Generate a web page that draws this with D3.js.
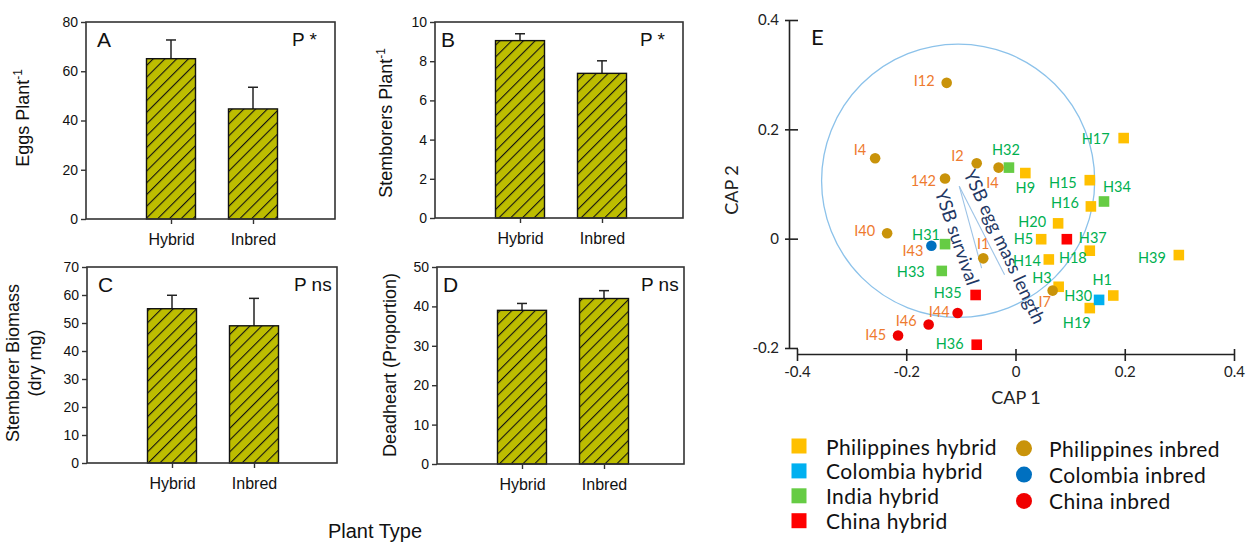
<!DOCTYPE html>
<html>
<head>
<meta charset="utf-8">
<script src="https://cdn.jsdelivr.net/npm/d3@7"></script>
<style>
  body { margin: 0; background: #fff; }
  svg { display: block; }
</style>
</head>
<body>
<div id="chart"></div>
<script>
// ---- bar panel data ----
var categories = ['Hybrid', 'Inbred'];
var eggsMean = [65.1, 44.7];
var eggsSE = [7.6, 8.8];
var stemborersMean = [9.05, 7.38];
var stemborersSE = [0.35, 0.64];
var biomassMean = [55.1, 49.0];
var biomassSE = [4.8, 9.8];
var deadheartMean = [39.0, 42.0];
var deadheartSE = [1.75, 2.0];

// ---- CAP ordination data ----
var capNames = ['H17', 'H9', 'H15', 'H16', 'H20', 'H5', 'H18', 'H39', 'H14', 'H3', 'H1', 'H19',
    'H30',
    'H32', 'H34', 'H31', 'H33',
    'H37', 'H35', 'H36',
    'I12', 'I4', 'I2', 'I4', '142', 'I40', 'I1', 'I7',
    'I43',
    'I44', 'I46', 'I45'];
var capGroups = ['Philippines hybrid', 'Philippines hybrid', 'Philippines hybrid', 'Philippines hybrid',
    'Philippines hybrid', 'Philippines hybrid', 'Philippines hybrid', 'Philippines hybrid',
    'Philippines hybrid', 'Philippines hybrid', 'Philippines hybrid', 'Philippines hybrid',
    'Colombia hybrid',
    'India hybrid', 'India hybrid', 'India hybrid', 'India hybrid',
    'China hybrid', 'China hybrid', 'China hybrid',
    'Philippines inbred', 'Philippines inbred', 'Philippines inbred', 'Philippines inbred',
    'Philippines inbred', 'Philippines inbred', 'Philippines inbred', 'Philippines inbred',
    'Colombia inbred',
    'China inbred', 'China inbred', 'China inbred'];
var cap1 = [0.198, 0.018, 0.136, 0.138, 0.078, 0.047, 0.136, 0.299, 0.061, 0.079, 0.179, 0.136,
    0.153,
    -0.012, 0.162, -0.129, -0.135,
    0.094, -0.073, -0.071,
    -0.126, -0.257, -0.071, -0.031, -0.129, -0.235, -0.059, 0.068,
    -0.154,
    -0.106, -0.159, -0.215];
var cap2 = [0.184, 0.120, 0.107, 0.059, 0.028, -0.001, -0.022, -0.030, -0.038, -0.088, -0.104, -0.127,
    -0.112,
    0.130, 0.068, -0.010, -0.059,
    -0.001, -0.103, -0.194,
    0.285, 0.147, 0.138, 0.130, 0.110, 0.010, -0.036, -0.095,
    -0.013,
    -0.136, -0.157, -0.177];

var vectorNames = ['YSB survival', 'YSB egg mass length'];
var vectorStart = [-0.103, 0.096];
var vectorEndX = [-0.062, -0.020];
var vectorEndY = [-0.054, -0.066];
var circleCenter = [-0.105, 0.106];
var circleRadius = 0.25;

var xTicksE = [-0.4, -0.2, 0, 0.2, 0.4];
var yTicksE = [-0.2, 0, 0.2, 0.4];

var legendHybrid = ['Philippines hybrid', 'Colombia hybrid', 'India hybrid', 'China hybrid'];
var legendInbred = ['Philippines inbred', 'Colombia inbred', 'China inbred'];

// ---- styles ----
var groupColor = {
    'Philippines hybrid': '#FFC000',
    'Colombia hybrid': '#00B0F0',
    'India hybrid': '#66CC44',
    'China hybrid': '#FF0000',
    'Philippines inbred': '#C9930A',
    'Colombia inbred': '#0070C0',
    'China inbred': '#F00000'
};
var barFill = '#BDBD00';
var barWidth = 49;
var sansBar = '"Liberation Sans", Arimo, sans-serif';
var sansCap = 'Lato, "Open Sans", sans-serif';

var svg = d3.select('#chart').append('svg')
    .attr('width', 1249)
    .attr('height', 546);

var defs = svg.append('defs');
var hatch = defs.append('pattern')
    .attr('id', 'hatch')
    .attr('patternUnits', 'userSpaceOnUse')
    .attr('width', 8.3)
    .attr('height', 8.3)
    .attr('patternTransform', 'rotate(45)');
hatch.append('rect').attr('width', 8.3).attr('height', 8.3).attr('fill', barFill);
hatch.append('line').attr('x1', 0).attr('y1', 0).attr('x2', 0).attr('y2', 8.3)
    .attr('stroke', '#111').attr('stroke-width', 2.2);

// ---------------- bar panels ----------------
var panels = [
    { tag: 'A', x: 86, y: 22, w: 249, h: 197, max: 80, step: 20, mean: eggsMean, se: eggsSE, p: 'P *', tagDx: 11,
      ylab: [['Eggs Plant', '-1']], ylabX: 23, ylabY: 118 },
    { tag: 'B', x: 435, y: 22, w: 248, h: 196, max: 10, step: 2, mean: stemborersMean, se: stemborersSE, p: 'P *', tagDx: 6,
      ylab: [['Stemborers Plant', '-1']], ylabX: 386, ylabY: 123 },
    { tag: 'C', x: 87, y: 267, w: 250, h: 196, max: 70, step: 10, mean: biomassMean, se: biomassSE, p: 'P ns', tagDx: 11,
      ylab: [['Stemborer Biomass', ''], ['(dry mg)', '']], ylabX: 21, ylabY: 363 },
    { tag: 'D', x: 437, y: 267, w: 247, h: 197, max: 50, step: 10, mean: deadheartMean, se: deadheartSE, p: 'P ns', tagDx: 6,
      ylab: [['Deadheart (Proportion)', '']], ylabX: 390, ylabY: 365 }
];

function drawBarPanel(p) {
    var g = svg.append('g');
    var y = d3.scaleLinear().domain([0, p.max]).range([p.y + p.h, p.y]);
    var x = d3.scalePoint().domain(categories).range([p.x + 85, p.x + 167]);

    // error bars (upper only)
    var err = g.selectAll('.err').data(categories).enter().append('g');
    err.append('line')
        .attr('x1', (d) => x(d)).attr('x2', (d) => x(d))
        .attr('y1', (d, i) => y(p.mean[i]) + 10)
        .attr('y2', (d, i) => y(p.mean[i] + p.se[i]))
        .attr('stroke', '#222').attr('stroke-width', 1.5);
    err.append('line')
        .attr('x1', (d) => x(d) - 5).attr('x2', (d) => x(d) + 5)
        .attr('y1', (d, i) => y(p.mean[i] + p.se[i]))
        .attr('y2', (d, i) => y(p.mean[i] + p.se[i]))
        .attr('stroke', '#222').attr('stroke-width', 1.5);

    g.selectAll('.bar').data(categories).enter().append('rect')
        .attr('x', (d) => x(d) - barWidth / 2)
        .attr('y', (d, i) => y(p.mean[i]))
        .attr('width', barWidth)
        .attr('height', (d, i) => y(0) - y(p.mean[i]))
        .attr('fill', 'url(#hatch)')
        .attr('stroke', '#111')
        .attr('stroke-width', 1.4);

    g.append('rect')
        .attr('x', p.x).attr('y', p.y).attr('width', p.w).attr('height', p.h)
        .attr('fill', 'none').attr('stroke', '#333').attr('stroke-width', 1.6);

    var ya = g.append('g')
        .attr('transform', `translate(${p.x},0)`)
        .call(d3.axisLeft(y).tickValues(d3.range(0, p.max + 0.001, p.step)).tickSize(5).tickPadding(3));
    ya.select('.domain').remove();
    ya.selectAll('line').attr('stroke', '#333').attr('stroke-width', 1.4);
    ya.selectAll('text').attr('font-family', sansBar).attr('font-size', 14).attr('fill', '#111');

    var xa = g.append('g')
        .attr('transform', `translate(0,${p.y + p.h})`)
        .call(d3.axisBottom(x).tickSize(5).tickPadding(10));
    xa.select('.domain').remove();
    xa.selectAll('line').attr('stroke', '#333').attr('stroke-width', 1.4);
    xa.selectAll('text').attr('font-family', sansBar).attr('font-size', 16).attr('fill', '#111');

    g.append('text')
        .attr('x', p.x + p.tagDx).attr('y', p.y + 25)
        .attr('font-family', sansBar).attr('font-size', 21).attr('fill', '#111')
        .text(p.tag);
    g.append('text')
        .attr('x', p.x + p.w - 43).attr('y', p.y + 24)
        .attr('font-family', sansBar).attr('font-size', 19).attr('fill', '#111')
        .text(p.p);

    var lab = g.append('text')
        .attr('transform', `translate(${p.ylabX},${p.ylabY}) rotate(-90)`)
        .attr('text-anchor', 'middle')
        .attr('font-family', sansBar).attr('font-size', 18).attr('fill', '#111');
    p.ylab.forEach(function (line, i) {
        lab.append('tspan').attr('x', 0).attr('dy', i === 0 ? (p.ylab.length > 1 ? '-0.1em' : '0.35em') : '1.2em')
            .text(line[0]);
        if (line[1]) {
            lab.append('tspan').attr('font-size', 12).attr('dy', '-0.6em').text(line[1]);
        }
    });
}

panels.forEach(drawBarPanel);

svg.append('text')
    .attr('x', 375).attr('y', 538)
    .attr('text-anchor', 'middle')
    .attr('font-family', sansBar).attr('font-size', 20).attr('fill', '#111')
    .text('Plant Type');

// ---------------- CAP panel E ----------------
var xE = d3.scaleLinear().domain([-0.4, 0.4]).range([797, 1234]);
var yE = d3.scaleLinear().domain([-0.2, 0.4]).range([348, 20]);
var tickFmt = (d) => d === 0 ? '0' : String(d);

var yAxisE = svg.append('g')
    .attr('transform', 'translate(789,0)')
    .call(d3.axisLeft(yE).tickValues(yTicksE).tickSize(4).tickSizeOuter(0).tickPadding(6).tickFormat(tickFmt));
yAxisE.selectAll('.tick line').attr('x1', 9);
var xAxisE = svg.append('g')
    .attr('transform', 'translate(0,354)')
    .call(d3.axisBottom(xE).tickValues(xTicksE).tickSize(7).tickSizeOuter(0).tickPadding(5).tickFormat(tickFmt));
xAxisE.selectAll('.tick line').attr('y1', -5);
[yAxisE, xAxisE].forEach(function (a) {
    a.selectAll('path, line').attr('stroke', '#222').attr('stroke-width', 1.6);
    a.selectAll('text').attr('font-family', sansCap).attr('font-size', 15).attr('fill', '#222');
});

svg.append('text').attr('x', 1016).attr('y', 404).attr('text-anchor', 'middle')
    .attr('font-family', sansCap).attr('font-size', 18).attr('fill', '#222').text('CAP 1');
svg.append('text').attr('transform', 'translate(738,190) rotate(-90)').attr('text-anchor', 'middle')
    .attr('font-family', sansCap).attr('font-size', 18).attr('fill', '#222').text('CAP 2');
svg.append('text').attr('x', 811).attr('y', 45)
    .attr('font-family', sansCap).attr('font-size', 22).attr('fill', '#111').text('E');

// correlation circle and vectors
svg.append('ellipse')
    .attr('cx', xE(circleCenter[0])).attr('cy', yE(circleCenter[1]))
    .attr('rx', xE(circleRadius) - xE(0)).attr('ry', yE(0) - yE(circleRadius))
    .attr('fill', 'none').attr('stroke', '#8CC2EA').attr('stroke-width', 1.3);

// vector label placement: offset from vector midpoint (px) and rotation (deg)
var vecLayout = [{ dx: -13, dy: 10, rot: 71 }, { dx: 23, dy: 16, rot: 65 }];
vectorNames.forEach(function (name, i) {
    var x0 = xE(vectorStart[0]), y0 = yE(vectorStart[1]);
    var x1 = xE(vectorEndX[i]), y1 = yE(vectorEndY[i]);
    svg.append('line').attr('x1', x0).attr('y1', y0).attr('x2', x1).attr('y2', y1)
        .attr('stroke', '#9DC3E6').attr('stroke-width', 1.1);
    var mx = (x0 + x1) / 2 + vecLayout[i].dx, my = (y0 + y1) / 2 + vecLayout[i].dy;
    svg.append('text')
        .attr('transform', `translate(${mx},${my}) rotate(${vecLayout[i].rot})`)
        .attr('text-anchor', 'middle').attr('dominant-baseline', 'central')
        .attr('font-family', sansCap).attr('font-size', 18.5).attr('fill', '#1F3864')
        .text(name);
});

// label placement per point: [anchor, dx, dy]
var labelPlace = [
    ['end', -14, 0], ['middle', 0, 14], ['end', -13, 2], ['end', -12, -4], ['end', -12, -2], ['end', -8, -1],
    ['end', -3, 7], ['end', -13, 2], ['end', -8, 1], ['end', -7, -9], ['middle', -11, -16], ['middle', -13, 14],
    ['end', -7, -4],
    ['middle', -3, -18], ['middle', 13, -15], ['middle', -19, -10], ['end', -17, 1],
    ['start', 12, -2], ['end', -14, -2], ['end', -13, -1],
    ['end', -12, -2], ['end', -9, -9], ['end', -13, -8], ['middle', -6, 15], ['end', -9, 2], ['end', -12, -3],
    ['middle', 0, -15], ['middle', -8, 11],
    ['end', -8, 5],
    ['end', -8, -2], ['end', -12, -4], ['end', -12, -1]
];

var pts = capNames.map((n, i) => ({ name: n, group: capGroups[i], x: cap1[i], y: cap2[i], i: i }));
var isHybrid = (d) => /hybrid/.test(d.group);

svg.selectAll('.sq').data(pts.filter(isHybrid)).enter().append('rect')
    .attr('x', (d) => xE(d.x) - 5.3).attr('y', (d) => yE(d.y) - 5.3)
    .attr('width', 10.6).attr('height', 10.6)
    .attr('fill', (d) => groupColor[d.group]);
svg.selectAll('.ci').data(pts.filter((d) => !isHybrid(d))).enter().append('circle')
    .attr('cx', (d) => xE(d.x)).attr('cy', (d) => yE(d.y)).attr('r', 5.3)
    .attr('fill', (d) => groupColor[d.group]);

svg.selectAll('.lab').data(pts).enter().append('text')
    .attr('x', (d) => xE(d.x) + labelPlace[d.i][1])
    .attr('y', (d) => yE(d.y) + labelPlace[d.i][2])
    .attr('text-anchor', (d) => labelPlace[d.i][0])
    .attr('dominant-baseline', 'central')
    .attr('font-family', sansCap).attr('font-size', 14.5)
    .attr('fill', (d) => isHybrid(d) ? '#00B050' : '#EE7A2E')
    .text((d) => d.name);

// legend
var legH = svg.append('g').selectAll('g').data(legendHybrid).enter().append('g')
    .attr('transform', (d, i) => `translate(799,${446 + i * 24.9})`);
legH.append('rect').attr('x', -7.5).attr('y', -7.5).attr('width', 15).attr('height', 15)
    .attr('fill', (d) => groupColor[d]);
legH.append('text').attr('x', 27).attr('dominant-baseline', 'central')
    .attr('font-family', sansCap).attr('font-size', 21).attr('letter-spacing', 0.4)
    .attr('fill', '#111').text((d) => d);

var legI = svg.append('g').selectAll('g').data(legendInbred).enter().append('g')
    .attr('transform', (d, i) => `translate(1024,${448.3 + i * 26.3})`);
legI.append('circle').attr('r', 8).attr('fill', (d) => groupColor[d]);
legI.append('text').attr('x', 25).attr('dominant-baseline', 'central')
    .attr('font-family', sansCap).attr('font-size', 21).attr('letter-spacing', 0.4)
    .attr('fill', '#111').text((d) => d);
</script>
</body>
</html>
